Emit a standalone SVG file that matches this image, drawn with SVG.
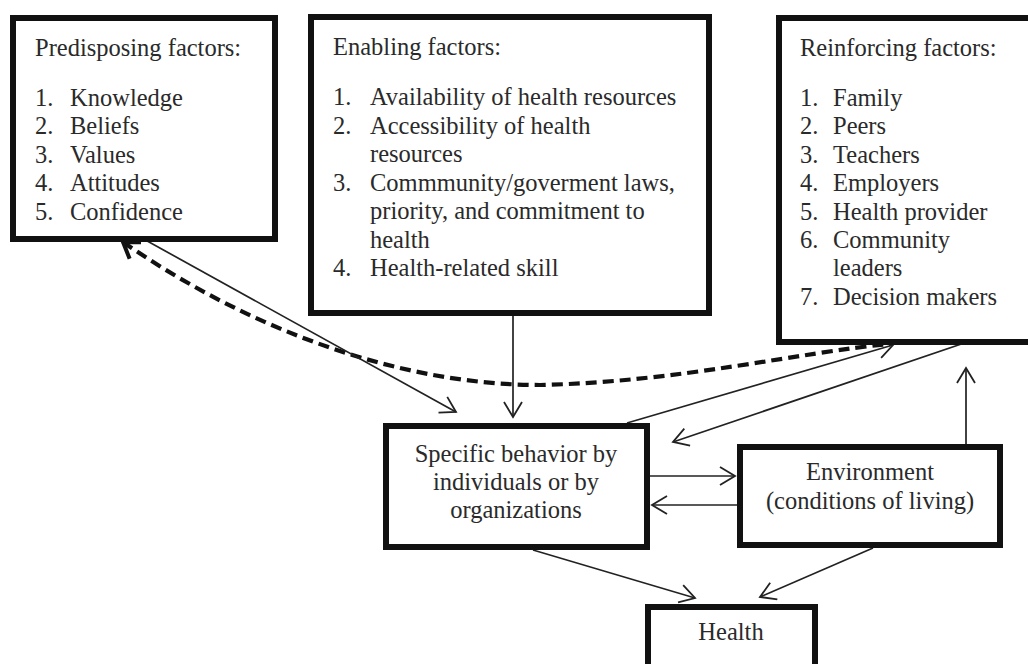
<svg xmlns="http://www.w3.org/2000/svg" width="1028" height="664" viewBox="0 0 1028 664">
<style>
.box{fill:#fff;stroke:#111;stroke-width:6}
text{font-family:'Liberation Serif','DejaVu Serif',serif;font-size:24.5px;fill:#2a2a2a}
.c{text-anchor:middle}
.ln{fill:none;stroke:#222;stroke-width:1.7}
.dash{fill:none;stroke:#111;stroke-width:4.2;stroke-dasharray:11 6}
</style>
<defs>
<marker id="ah" viewBox="-1 -1 18 20" refX="15" refY="9" markerWidth="18" markerHeight="20" markerUnits="userSpaceOnUse" orient="auto">
<path d="M0,0 L15,9 L0,18" fill="none" stroke="#222" stroke-width="1.8"/>
</marker>
<marker id="ahd" viewBox="-3 -3 22 26" refX="15" refY="10" markerWidth="22" markerHeight="26" markerUnits="userSpaceOnUse" orient="auto-start-reverse">
<path d="M0,0 L15,10 L0,20" fill="none" stroke="#111" stroke-width="4"/>
</marker>
</defs>
<rect width="1028" height="664" fill="#fff"/>

<g id="connectors">
<path class="dash" d="M123,242 C250,330 400,385 540,385 C680,382 800,352 890,344" marker-start="url(#ahd)"/>
<line class="ln" x1="513" y1="316" x2="513" y2="417" marker-end="url(#ah)"/>
<line class="ln" x1="140" y1="237" x2="456" y2="412" marker-end="url(#ah)"/>
<line class="ln" x1="627" y1="423" x2="893" y2="345" marker-end="url(#ah)"/>
<line class="ln" x1="979" y1="338" x2="673" y2="442" marker-end="url(#ah)"/>
<line class="ln" x1="966" y1="445" x2="966" y2="368" marker-end="url(#ah)"/>
<line class="ln" x1="650" y1="476" x2="735" y2="476" marker-end="url(#ah)"/>
<line class="ln" x1="738" y1="505" x2="652" y2="505" marker-end="url(#ah)"/>
<line class="ln" x1="533" y1="550" x2="695" y2="598" marker-end="url(#ah)"/>
<line class="ln" x1="873" y1="548" x2="760" y2="597" marker-end="url(#ah)"/>
</g>

<g id="predisposing">
<rect class="box" x="13" y="18" width="262" height="221"/>
<text x="35" y="56">Predisposing factors:</text>
<text x="35" y="106">1.</text><text x="70" y="106">Knowledge</text>
<text x="35" y="134.4">2.</text><text x="70" y="134.4">Beliefs</text>
<text x="35" y="162.8">3.</text><text x="70" y="162.8">Values</text>
<text x="35" y="191.2">4.</text><text x="70" y="191.2">Attitudes</text>
<text x="35" y="219.6">5.</text><text x="70" y="219.6">Confidence</text>
</g>

<g id="enabling">
<rect class="box" x="311" y="17" width="398" height="296"/>
<text x="333" y="55">Enabling factors:</text>
<text x="333" y="105">1.</text><text x="370" y="105">Availability of health resources</text>
<text x="333" y="133.5">2.</text><text x="370" y="133.5">Accessibility of health</text>
<text x="370" y="162">resources</text>
<text x="333" y="190.5">3.</text><text x="370" y="190.5">Commmunity/goverment laws,</text>
<text x="370" y="219">priority, and commitment to</text>
<text x="370" y="247.5">health</text>
<text x="333" y="276">4.</text><text x="370" y="276">Health-related skill</text>
</g>

<g id="reinforcing">
<rect class="box" x="779" y="18" width="300" height="324"/>
<text x="800" y="56">Reinforcing factors:</text>
<text x="800" y="106">1.</text><text x="833" y="106">Family</text>
<text x="800" y="134.4">2.</text><text x="833" y="134.4">Peers</text>
<text x="800" y="162.8">3.</text><text x="833" y="162.8">Teachers</text>
<text x="800" y="191.2">4.</text><text x="833" y="191.2">Employers</text>
<text x="800" y="219.6">5.</text><text x="833" y="219.6">Health provider</text>
<text x="800" y="248">6.</text><text x="833" y="248">Community</text>
<text x="833" y="276.4">leaders</text>
<text x="800" y="304.8">7.</text><text x="833" y="304.8">Decision makers</text>
</g>

<g id="behavior">
<rect class="box" x="386" y="426" width="261" height="121"/>
<text class="c" x="516" y="462">Specific behavior by</text>
<text class="c" x="516" y="490">individuals or by</text>
<text class="c" x="516" y="518">organizations</text>
</g>

<g id="environment">
<rect class="box" x="740" y="447" width="260" height="98"/>
<text class="c" x="870" y="480">Environment</text>
<text class="c" x="870" y="509">(conditions of living)</text>
</g>

<g id="health">
<rect class="box" x="648" y="607" width="167" height="80"/>
<text class="c" x="731" y="640">Health</text>
</g>
</svg>
